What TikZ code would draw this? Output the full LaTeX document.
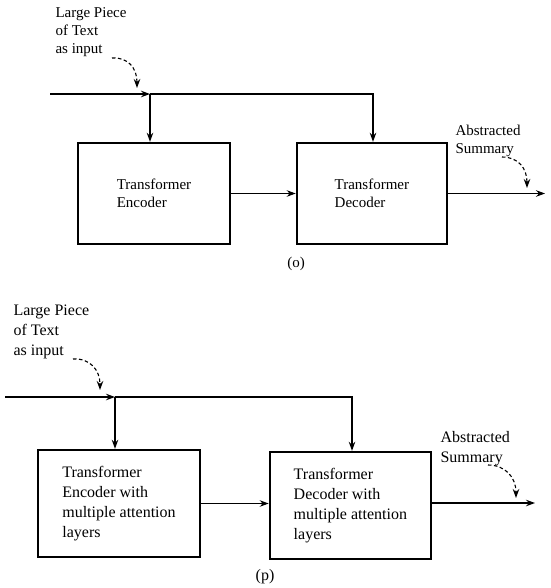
\documentclass[tikz,border=0pt]{standalone}
\usepackage{fontspec}
\setmainfont{Liberation Serif}
\usetikzlibrary{arrows.meta,positioning}

\begin{document}
\begin{tikzpicture}[x=1pt,y=-1pt,>={Stealth[length=9pt,width=6.5pt]},
                    line width=1.1pt,
                    block/.style={draw,line width=2.4pt,align=left,inner sep=0pt},
                    note/.style={align=left,inner sep=0pt,anchor=north west},
                    hint/.style={->,dash pattern=on 3.5pt off 2.5pt}]
\useasboundingbox (0,0) rectangle (550,588);

% (o) encoder and decoder
\begin{scope}[font=\fontsize{15}{18}\selectfont]
\node[block,minimum width=152pt,minimum height=101pt] (encA) at (154,193.5) {Transformer\\Encoder};
\node[block,minimum width=150pt,minimum height=101pt] (decA) [right=64.5pt of encA] {Transformer\\Decoder};
\node[note] (inA) at (55,7) {Large Piece\\of Text\\as input};
\node[note] (sumA) at (455,125) {Abstracted\\Summary};
\node (labA) at (296,264) {(o)};

\coordinate (startA) at (50,94);
\coordinate (splitA) at (150,94);
\coordinate (turnA) at (373,94);
\coordinate (outA) at (545,193.5);

\draw[->] (startA) -- (splitA);
\draw[->] (splitA) -- (splitA |- encA.north);
\draw[->] (splitA) -- (turnA) -- (turnA |- decA.north);
\draw[->] (encA) -- (decA);
\draw[->] (decA) -- (outA);

\draw[hint] (112,58) .. controls (128,57) and (137,68) .. (137,88);
\draw[hint] (502,157) .. controls (518,157) and (527,168) .. (527,188);
\end{scope}

% (p) encoder and decoder with attention layers
\begin{scope}[font=\fontsize{16}{20}\selectfont]
\node[block,minimum width=162pt,minimum height=107pt] (encB) at (119,503.5) {Transformer\\Encoder with\\multiple attention\\layers};
\node[block,minimum width=161pt,minimum height=107pt] (decB) [right=67.5pt of encB,yshift=-2pt] {Transformer\\Decoder with\\multiple attention\\layers};
\node[note] (inB) at (13,304) {Large Piece\\of Text\\as input};
\node[note] (sumB) at (440,431) {Abstracted\\Summary};
\node (labB) at (265,577) {(p)};

\coordinate (startB) at (5,397);
\coordinate (splitB) at (115,397);
\coordinate (turnB) at (352,397);
\coordinate (outB) at (535,503);

\draw[->] (startB) -- (splitB);
\draw[->] (splitB) -- (splitB |- encB.north);
\draw[->] (splitB) -- (turnB) -- (turnB |- decB.north);
\draw[->] (encB.east) -- (encB.east -| decB.west);
\draw[->] (decB.east |- outB) -- (outB);

\draw[hint] (73,359) .. controls (90,358) and (100,370) .. (100,390);
\draw[hint] (488,465) .. controls (505,465) and (516,477) .. (516,498);
\end{scope}
\end{tikzpicture}
\end{document}
